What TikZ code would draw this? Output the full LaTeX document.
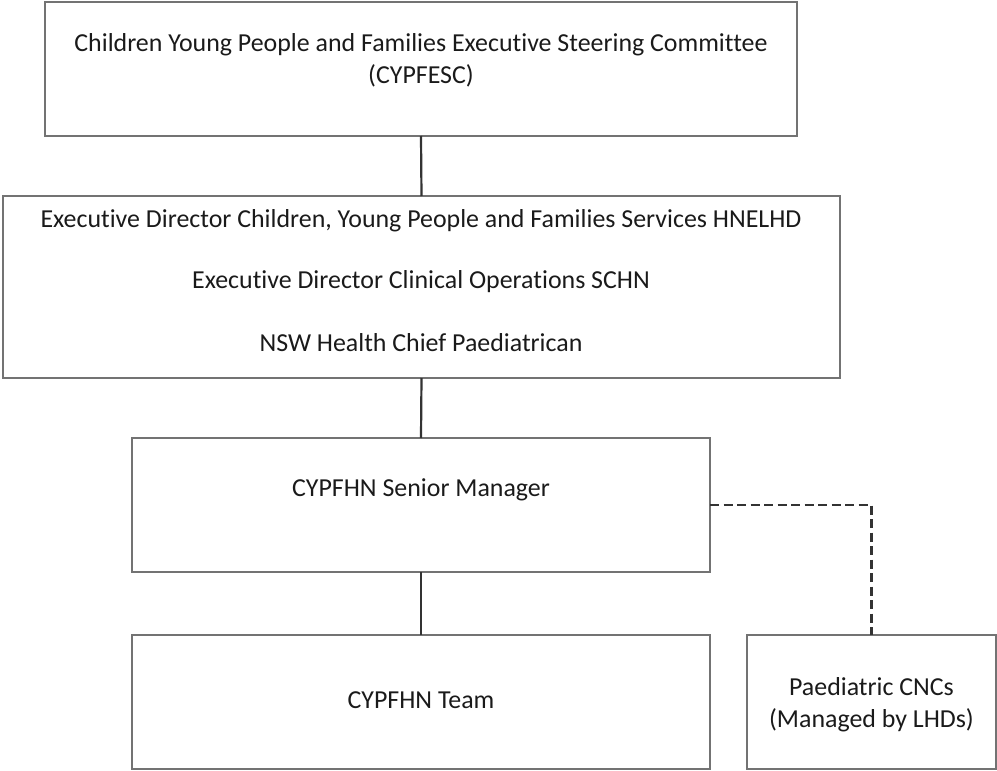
\documentclass[tikz,border=0pt]{standalone}
\usepackage{fontspec}
\setmainfont[Ligatures=NoCommon]{Carlito}
\definecolor{boxgray}{HTML}{737373}
\definecolor{linegray}{HTML}{333333}
\definecolor{txt}{HTML}{1A1A1A}
\begin{document}
\begin{tikzpicture}[x=1pt,y=-1pt,
  box/.style={draw=boxgray, line width=1.8pt, rectangle, inner sep=0pt, outer sep=0pt},
  lbl/.style={text=txt, font=\fontsize{25.9}{31}\selectfont, inner sep=0pt, align=center},
  conn/.style={draw=linegray, line width=2.2pt},
  dconn/.style={draw=linegray, line width=2.2pt, dash pattern=on 9pt off 4.5pt}]
\useasboundingbox (0,0) rectangle (997,771);
\node[box, minimum width=752pt, minimum height=134pt] (b1) at (421,69) {};
\node[box, minimum width=837pt, minimum height=182pt] (b2) at (421.5,287) {};
\node[box, minimum width=578pt, minimum height=134pt] (b3) at (421,505) {};
\node[box, minimum width=578pt, minimum height=134pt] (b4) at (421,702) {};
\node[box, minimum width=249pt, minimum height=134pt] (b5) at (871.5,702) {};
\node[lbl] (t1a) at (421,45) {Children Young People and Families Executive Steering Committee};
\node[lbl] (t1b) at (421,76) {(CYPFESC)};
\node[lbl] (t2a) at (421,221) {Executive Director Children, Young People and Families Services HNELHD};
\node[lbl] (t2b) at (421,282) {Executive Director Clinical Operations SCHN};
\node[lbl] (t2c) at (421,343) {NSW Health Chief Paediatrican};
\node[lbl] (t3) at (421,490) {CYPFHN Senior Manager};
\node[lbl] (t4) at (421,700) {CYPFHN Team};
\node[lbl] (t5a) at (871.5,687) {Paediatric CNCs};
\node[lbl] (t5b) at (871.5,720) {(Managed by LHDs)};
\draw[conn] (b1.south) -- (b2.north);
\draw[conn] (b2.south) -- (b3.north);
\draw[conn] (b3.south) -- (b4.north);
\draw[dconn] (b3.east) -| (b5.north);
\end{tikzpicture}
\end{document}
